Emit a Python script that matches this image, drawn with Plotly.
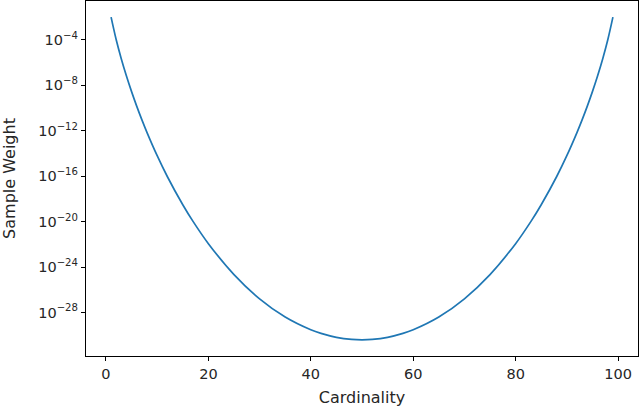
import plotly.graph_objects as go

# Cardinality values (x) and sample weights (symmetric about 50)
cardinality_left = [1, 2, 3, 4, 5, 6, 7, 8, 10, 12, 15, 17, 20, 25, 30, 35, 40, 42, 45, 48, 50]
weight_left = [1.0e-2, 1.02e-4, 2.10e-6, 6.58e-8, 2.77e-9, 1.47e-10, 9.51e-12, 7.23e-13,
               6.35e-15, 8.9e-17, 3.06e-19, 1.05e-20, 1.15e-22, 2.18e-25, 1.60e-27,
               3.97e-29, 3.00e-30, 1.44e-30, 6.50e-31, 4.26e-31, 3.93e-31]
cardinality_right = [52, 55, 58, 60, 65, 70, 75, 80, 83, 85, 88, 90, 92, 93, 94, 95, 96, 97, 98, 99]
weight_right = [4.26e-31, 6.50e-31, 1.44e-30, 3.00e-30, 3.97e-29, 1.60e-27, 2.18e-25, 1.15e-22,
                1.05e-20, 3.06e-19, 8.9e-17, 6.35e-15, 7.23e-13, 9.51e-12, 1.47e-10, 2.77e-9,
                6.58e-8, 2.10e-6, 1.02e-4, 1.0e-2]

x_ticks = [0, 20, 40, 60, 80, 100]
y_tick_exps = [-4, -8, -12, -16, -20, -24, -28]

x = cardinality_left + cardinality_right
y = weight_left + weight_right

fig = go.Figure()
fig.add_trace(go.Scatter(x=x, y=y, mode="lines",
                         line=dict(color="#1f77b4", width=1.7, shape="spline", smoothing=1.0),
                         showlegend=False, hoverinfo="skip"))

font = dict(family="DejaVu Sans", size=14.5, color="#262626")
fig.update_layout(
    width=640, height=407,
    margin=dict(l=85.5, r=1.5, t=1, b=50.5),
    paper_bgcolor="white", plot_bgcolor="white",
    font=font,
)
fig.update_xaxes(
    range=[-3.9, 103.9], tickvals=x_ticks, ticktext=[str(v) for v in x_ticks],
    showgrid=False, zeroline=False, showline=True, linecolor="black", linewidth=1.2,
    mirror=True, ticks="outside", ticklen=4, tickcolor="black", automargin=False,
    title=dict(text="Cardinality", font=dict(size=16), standoff=12),
)
fig.update_yaxes(
    type="log", range=[-31.83, -0.58],
    tickvals=[10.0 ** e for e in y_tick_exps],
    ticktext=["10<sup>−%d</sup>" % (-e) for e in y_tick_exps],
    showgrid=False, zeroline=False, showline=True, linecolor="black", linewidth=1.2,
    mirror=True, ticks="outside", ticklen=4, tickcolor="black", automargin=False,
    title=dict(text="Sample Weight", font=dict(size=16), standoff=18),
)
fig.write_html("out.html", config={"displayModeBar": False},
               post_script="document.body.style.margin='0';document.body.style.overflow='hidden';")
